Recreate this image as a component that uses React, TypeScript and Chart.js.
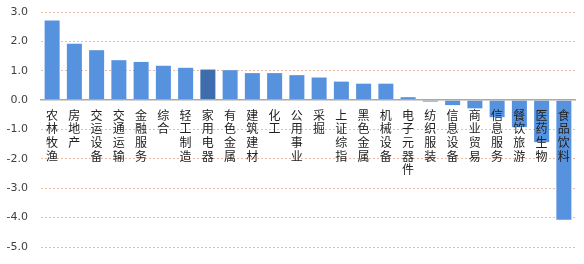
import React, { useEffect, useRef } from "react";
import { Chart, registerables } from "chart.js";

Chart.register(...registerables);

const categories: string[] = [
  "农林牧渔", "房地产", "交运设备", "交通运输", "金融服务", "综合", "轻工制造", "家用电器",
  "有色金属", "建筑建材", "化工", "公用事业", "采掘", "上证综指", "黑色金属", "机械设备",
  "电子元器件", "纺织服装", "信息设备", "商业贸易", "信息服务", "餐饮旅游", "医药生物", "食品饮料",
];

const changes: number[] = [
  2.71, 1.92, 1.70, 1.36, 1.30, 1.17, 1.10, 1.04,
  1.02, 0.92, 0.92, 0.85, 0.77, 0.63, 0.56, 0.56,
  0.10, -0.05, -0.17, -0.28, -0.58, -0.92, -1.43, -4.07,
];

const highlighted: string[] = ["家用电器"];

const yMin = -5;
const yMax = 3;
const yStep = 1;

export default function App() {
  const canvasRef = useRef<HTMLCanvasElement | null>(null);

  useEffect(() => {
    document.body.style.margin = "0";
    const canvas = canvasRef.current;
    if (!canvas) return;

    const barColor = (ctx: any) => {
      const i = ctx.dataIndex;
      if (highlighted.includes(categories[i])) {
        const el = ctx.chart.getDatasetMeta(0).data[i] as any;
        if (el && el.width) {
          const c = ctx.chart.ctx as CanvasRenderingContext2D;
          const g = c.createLinearGradient(el.x - el.width / 2, 0, el.x + el.width / 2, 0);
          g.addColorStop(0, "#2d5592");
          g.addColorStop(0.5, "#4f7fc2");
          g.addColorStop(1, "#2d5592");
          return g;
        }
        return "#3f6cad";
      }
      return "#5792df";
    };

    const chart = new Chart(canvas, {
      type: "bar",
      data: {
        labels: categories.map((c) => Array.from(c)),
        datasets: [
          {
            data: changes,
            backgroundColor: barColor,
            borderWidth: 0,
            barPercentage: 0.675,
            categoryPercentage: 1,
          },
        ],
      },
      options: {
        animation: false,
        responsive: true,
        maintainAspectRatio: false,
        layout: { padding: { left: 0, right: 9, top: 12, bottom: 17 } },
        plugins: { legend: { display: false }, tooltip: { enabled: false } },
        scales: {
          x: {
            position: { y: 0 } as any,
            grid: { display: false },
            border: { display: true, color: "#a9a9a9", width: 1.5, z: 1 },
            ticks: {
              z: 1,
              autoSkip: false,
              maxRotation: 0,
              minRotation: 0,
              padding: 0,
              color: "#222222",
              font: { family: "'Noto Sans CJK SC', sans-serif", size: 12, lineHeight: 1.14 },
            },
          },
          y: {
            min: yMin,
            max: yMax,
            afterFit: (scale: any) => {
              scale.width = 41;
            },
            border: { display: false, dash: [2, 2] },
            grid: {
              drawTicks: true,
              tickLength: 13,
              tickColor: "rgba(0,0,0,0)",
              color: (ctx: any) => (ctx.tick && ctx.tick.value === 0 ? "rgba(0,0,0,0)" : "rgba(232,170,140,0.8)"),
              lineWidth: 1,
            },
            ticks: {
              stepSize: yStep,
              padding: 0,
              color: "#404040",
              font: { family: "'DejaVu Sans', sans-serif", size: 11 },
              callback: (v: any) => Number(v).toFixed(1),
            },
          },
        },
      },
    });

    return () => chart.destroy();
  }, []);

  return (
    <div style={{ position: "fixed", left: 0, top: 0, width: 584, height: 264 }}>
      <canvas ref={canvasRef} />
    </div>
  );
}
